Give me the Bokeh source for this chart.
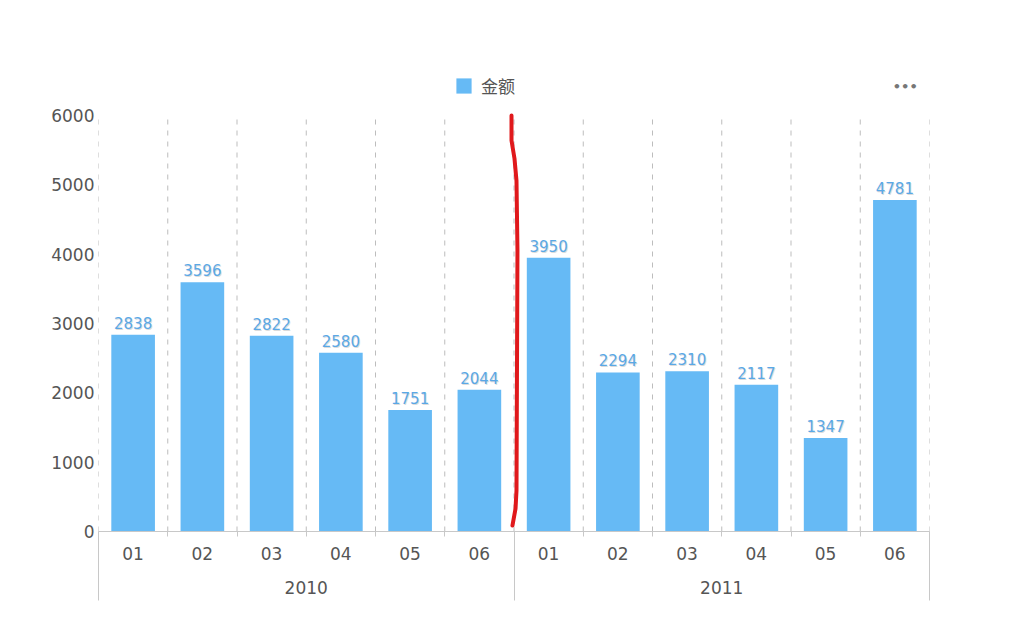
from bokeh.plotting import figure
from bokeh.models import (Range1d, FixedTicker, LinearAxis, Legend, LegendItem,
                          Label, LabelSet, ColumnDataSource)
from bokeh.core.properties import value
from bokeh.embed import file_html
from bokeh.resources import INLINE

# ---- data ----
years = ["2010", "2011"]
months = ["01", "02", "03", "04", "05", "06"]
amounts = [2838, 3596, 2822, 2580, 1751, 2044, 3950, 2294, 2310, 2117, 1347, 4781]
series_name = "金额"
y_ticks = [0, 1000, 2000, 3000, 4000, 5000, 6000]

# hand-drawn red annotation stroke (data coordinates)
mark_x = [5.964, 5.964, 6.007, 6.036, 6.05, 6.036, 6.022, 5.978]
mark_y = [6000, 5640, 5380, 5060, 4050, 590, 330, 87]

# ---- derived positions ----
n = len(amounts)
centers = [i + 0.5 for i in range(n)]
boundaries = list(range(n + 1))
month_labels = [months[i % len(months)] for i in range(n)]
group_size = len(months)
year_centers = [g * group_size + group_size / 2 for g in range(len(years))]
year_bounds = [g * group_size for g in range(len(years) + 1)]
y_max = y_ticks[-1]

src = ColumnDataSource(dict(x=centers, amount=amounts,
                            label=[str(v) for v in amounts]))

FONT = "DejaVu Sans"
TXT = "#555555"
GRID = "#c8c8c8"

p = figure(width=1007, height=611, x_range=Range1d(0, n), y_range=Range1d(0, 6650),
           output_backend="svg", toolbar_location=None, x_axis_type=None,
           min_border_left=98, min_border_right=78, min_border_top=70,
           min_border_bottom=80)
p.outline_line_color = None
p.ygrid.grid_line_color = None
p.xgrid.grid_line_color = None

# y axis
p.yaxis.ticker = FixedTicker(ticks=y_ticks)
p.yaxis.axis_line_color = None
p.yaxis.major_tick_line_color = None
p.yaxis.minor_tick_line_color = None
p.yaxis.major_tick_out = 0
p.yaxis.major_tick_in = 0
p.yaxis.major_label_standoff = 4
p.yaxis.major_label_text_font = FONT
p.yaxis.major_label_text_font_size = "17px"
p.yaxis.major_label_text_color = TXT

# vertical dashed separators at category boundaries (0 .. max tick)
p.segment(x0=boundaries, y0=[0] * len(boundaries), x1=boundaries,
          y1=[y_max] * len(boundaries), line_color="#bdbdbd", line_dash="5 6",
          line_width=1)

# month axis
ax_m = LinearAxis(ticker=FixedTicker(ticks=centers, minor_ticks=boundaries))
ax_m.major_label_overrides = {c: m for c, m in zip(centers, month_labels)}
ax_m.axis_line_color = GRID
ax_m.major_tick_line_color = None
ax_m.major_tick_out = 0
ax_m.major_tick_in = 0
ax_m.minor_tick_line_color = GRID
ax_m.minor_tick_out = 5
ax_m.minor_tick_in = 0
ax_m.major_label_standoff = 10
ax_m.major_label_text_font = FONT
ax_m.major_label_text_font_size = "17px"
ax_m.major_label_text_color = TXT
p.add_layout(ax_m, "below")

# year axis
ax_y = LinearAxis(ticker=FixedTicker(ticks=year_centers, minor_ticks=year_bounds))
ax_y.major_label_overrides = {c: y for c, y in zip(year_centers, years)}
ax_y.axis_line_color = None
ax_y.major_tick_line_color = None
ax_y.major_tick_out = 0
ax_y.major_tick_in = 0
ax_y.minor_tick_line_color = GRID
ax_y.minor_tick_in = 31
ax_y.minor_tick_out = 38
ax_y.major_label_standoff = -20
ax_y.major_label_text_font = FONT
ax_y.major_label_text_font_size = "17px"
ax_y.major_label_text_color = TXT
p.add_layout(ax_y, "below")

# bars
bars = p.vbar(x="x", top="amount", width=0.63, source=src,
              fill_color="#66BAF5", line_color=None)

# value labels (with faint shadow)
shadow = LabelSet(x="x", y="amount", text="label", source=src, text_align="center",
                  text_baseline="alphabetic", x_offset=1, y_offset=5,
                  text_font=value(FONT), text_font_size="15px", text_color="#999999",
                  text_alpha=0.35)
p.add_layout(shadow)
labels = LabelSet(x="x", y="amount", text="label", source=src, text_align="center",
                  text_baseline="alphabetic", y_offset=6,
                  text_font=value(FONT), text_font_size="15px", text_color="#5AA8E6")
p.add_layout(labels)

# red hand-drawn stroke
p.line(mark_x, mark_y, line_color="#E0191C", line_width=4,
       line_cap="round", line_join="round")

# legend at top
legend = Legend(items=[LegendItem(label=series_name, renderers=[bars])],
                location=(356, 433), orientation="horizontal",
                border_line_color=None, background_fill_alpha=0,
                padding=0, margin=0, glyph_width=19, glyph_height=19,
                label_height=19, label_standoff=8,
                label_text_font="Noto Sans CJK SC", label_text_font_size="17px",
                label_text_color=TXT, label_text_baseline="middle")
p.add_layout(legend)

# menu dots top-right
dots = Label(x=11.65, y=6418, text="•••", text_align="center",
             text_baseline="middle", text_font=FONT, text_font_size="13px",
             text_color="#777777", text_font_style="bold")
p.add_layout(dots)

open("out.html", "w").write(file_html(p, INLINE))
